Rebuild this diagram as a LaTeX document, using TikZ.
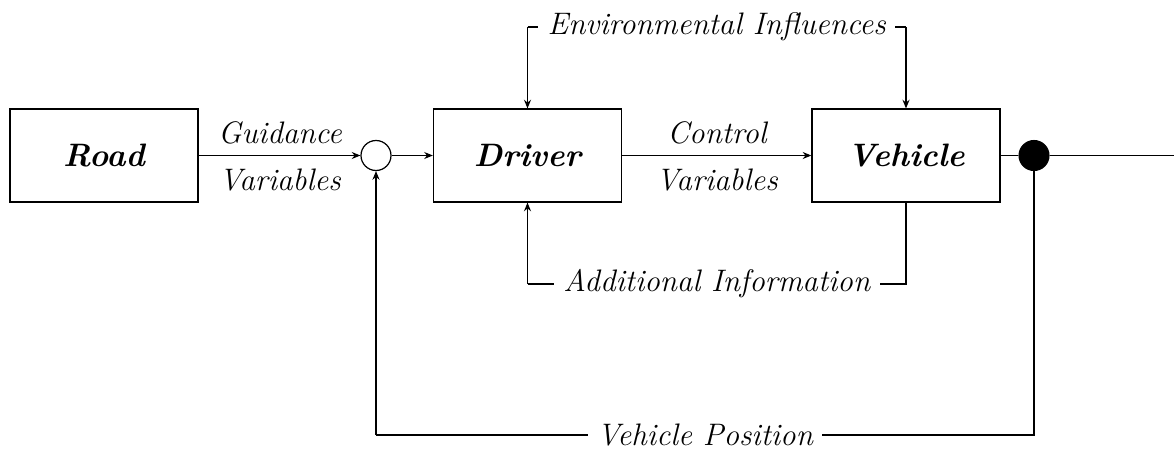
\documentclass[tikz,border=0pt]{standalone}
\usetikzlibrary{arrows.meta}
\begin{document}
\begin{tikzpicture}[x=0.37pt,y=-0.37pt,
  blockbox/.style={draw,line width=0.45pt,minimum width=69.6pt,minimum height=34.4pt,inner sep=0pt,font=\large\bfseries\itshape},
  sumcirc/.style={draw,circle,line width=0.45pt,minimum size=11.1pt,inner sep=0pt},
  dotcirc/.style={draw,fill=black,circle,minimum size=11.1pt,inner sep=0pt},
  lbl/.style={font=\fontsize{11.5}{14}\selectfont\itshape,inner sep=2pt},
  onlbl/.style={font=\fontsize{11.5}{14}\selectfont\itshape,fill=white,inner xsep=3.5pt,inner ysep=1pt},
  conn/.style={line width=0.4pt},
  arr/.style={line width=0.4pt,-{Stealth[length=3.2pt,width=2.6pt]}}]
\useasboundingbox (0,0) rectangle (1174,448);
\node[blockbox] (road) at (104,155.5) {Road};
\node[sumcirc] (sum) at (376,155.5) {};
\node[blockbox] (driver) at (527.5,155.5) {Driver};
\node[blockbox] (vehicle) at (906,155.5) {Vehicle};
\node[dotcirc] (dot) at (1034,155.5) {};
\coordinate (out) at (1174,155.5);
\coordinate (envL) at (527.5,27);
\coordinate (envR) at (906,27);
\coordinate (addL) at (527.5,284);
\coordinate (addR) at (906,284);
\coordinate (posL) at (376,435);
\coordinate (posR) at (1034,435);
% main path
\draw[arr] (road) -- (sum);
\draw[arr] (sum) -- (driver);
\draw[arr] (driver) -- (vehicle);
\draw[conn] (vehicle) -- (dot);
\draw[conn] (dot) -- (out);
\node[lbl] (guid) at (280,133) {Guidance};
\node[lbl] (guidv) at (280,180) {Variables};
\node[lbl] (ctrl) at (717,133) {Control};
\node[lbl] (ctrlv) at (717,180) {Variables};
% environmental influences
\draw[conn] (envL) -- (envR);
\draw[arr] (envL) -- (driver.north);
\draw[arr] (envR) -- (vehicle.north);
\node[onlbl] (env) at (716.75,27) {Environmental Influences};
% additional information
\draw[conn] (vehicle.south) -- (addR) -- (addL);
\draw[arr] (addL) -- (driver.south);
\node[onlbl] (add) at (716.75,284) {Additional Information};
% vehicle position
\draw[conn] (dot) -- (posR) -- (posL);
\draw[arr] (posL) -- (sum.south);
\node[onlbl] (pos) at (705,435) {Vehicle Position};
\end{tikzpicture}
\end{document}
